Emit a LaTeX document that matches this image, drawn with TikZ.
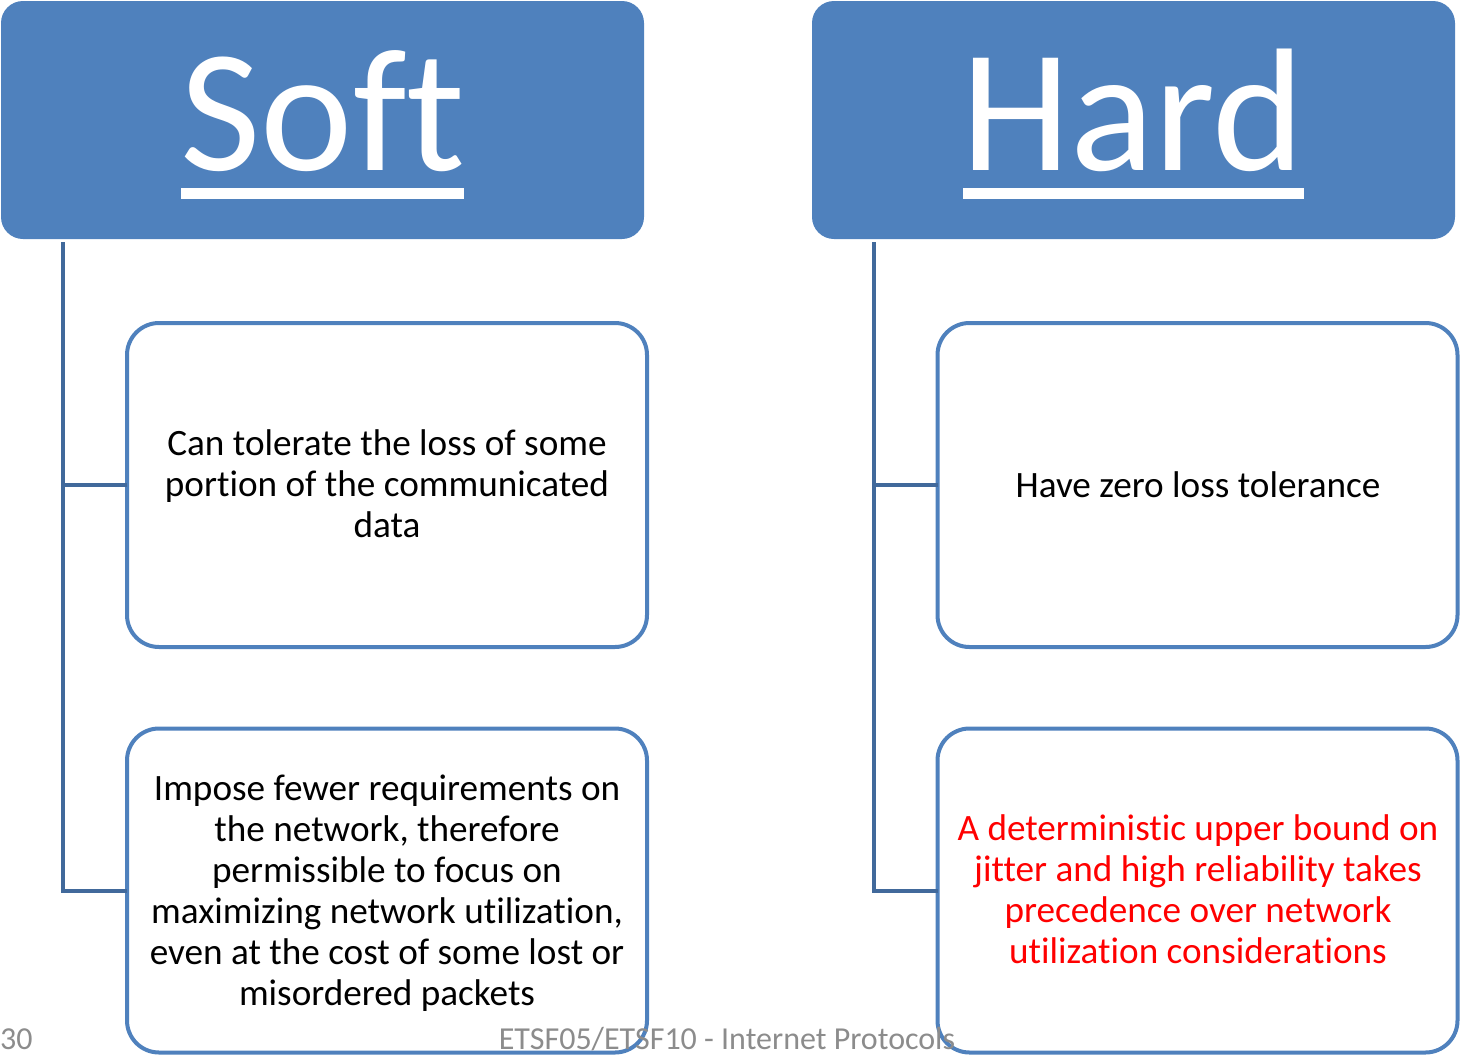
\documentclass[tikz,border=0pt]{standalone}
\usepackage{fontspec}
\setmainfont[RawFeature=-liga]{Carlito}
\definecolor{hdr}{HTML}{4F81BD}
\definecolor{conn}{HTML}{41699B}
\definecolor{foot}{HTML}{8C8C8C}
\begin{document}
\begin{tikzpicture}[x=1pt,y=-1pt,
  header/.style={fill=hdr,rounded corners=22pt,minimum width=643pt,minimum height=238pt,inner sep=0pt,outer sep=0pt},
  child/.style={draw=hdr,line width=4pt,fill=white,rounded corners=32pt,minimum width=520pt,minimum height=324pt,inner sep=0pt,outer sep=0pt},
  conn/.style={draw=conn,line width=4pt},
  body/.style={align=center,font=\fontsize{37.2}{41}\selectfont},
  title/.style={text=white,font=\fontsize{175}{175}\selectfont,anchor=base,inner sep=0pt},
  uline/.style={fill=white},
  footer/.style={text=foot,font=\fontsize{32}{32}\selectfont,anchor=base,inner sep=0pt}]
\useasboundingbox (0,0) rectangle (1460,1055);
% headers
\node[header] (sh) at (322.5,120) {};
\node[header] (hh) at (1133.5,120) {};
\node[title] (soft) at (323,170) {Soft};
\node[title] (hard) at (1133,170) {Hard};
\fill[uline] (181,188) rectangle (464,199);
\fill[uline] (963,188) rectangle (1304,199);
% child boxes
\node[child] (sa) at (387,485) {};
\node[child] (sb) at (387,890.5) {};
\node[child] (ha) at (1197.5,485) {};
\node[child] (hb) at (1197.5,890.5) {};
% texts
\node[body] (a) at (387,484) {Can tolerate the loss of some\\portion of the communicated\\data};
\node[body] (b) at (387,893) {Impose fewer requirements on\\the network, therefore\\permissible to focus on\\maximizing network utilization,\\even at the cost of some lost or\\misordered packets};
\node[body] (c) at (1198,485) {Have zero loss tolerance};
\node[body,text=red] (d) at (1198,889) {A deterministic upper bound on\\jitter and high reliability takes\\precedence over network\\utilization considerations};
% connectors
\coordinate (st) at (63,242);
\coordinate (ht) at (874,242);
\draw[conn] (st) |- (sb.west);
\draw[conn] (st |- sa.west) -- (sa.west);
\draw[conn] (ht) |- (hb.west);
\draw[conn] (ht |- ha.west) -- (ha.west);
% footer
\node[footer,anchor=base west] (pg) at (0,1049) {30};
\node[footer] (ft) at (727,1049) {ETSF05/ETSF10 - Internet Protocols};
\end{tikzpicture}
\end{document}
